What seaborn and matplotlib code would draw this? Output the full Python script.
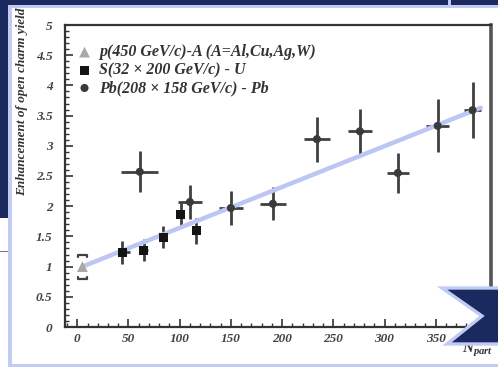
import matplotlib
matplotlib.use("Agg")
import matplotlib.pyplot as plt
from matplotlib.patches import Rectangle, Polygon
from matplotlib.ticker import MultipleLocator, FuncFormatter
import seaborn as sns
import pandas as pd

# ---- data -------------------------------------------------------------
pa_npart = [5]
pa_yield = [1.0]
pa_sys_lo = [0.79]
pa_sys_hi = [1.19]

su_npart = [44, 65, 84, 101, 116]
su_yield = [1.24, 1.27, 1.49, 1.87, 1.59]
su_yerr = [0.19, 0.18, 0.19, 0.19, 0.21]
su_xerr = [7, 4, 4, 3, 3]

pb_npart = [61, 110, 150, 191, 234, 276, 313, 352, 386]
pb_yield = [2.57, 2.07, 1.97, 2.04, 3.11, 3.24, 2.55, 3.33, 3.59]
pb_yerr = [0.34, 0.28, 0.28, 0.27, 0.37, 0.37, 0.33, 0.44, 0.46]
pb_xerr = [18, 12, 12, 13, 13, 12, 11, 11, 8]

fit_npart = [5, 394]
fit_yield = [1.0, 3.63]

legend_labels = [
    "p(450 GeV/c)-A (A=Al,Cu,Ag,W)",
    "S(32 \u00d7 200 GeV/c) - U",
    "Pb(208 \u00d7 158 GeV/c) - Pb",
]

# ---- style ------------------------------------------------------------
sns.set_style("white")
plt.rcParams["font.family"] = ["Liberation Serif", "DejaVu Serif"]
plt.rcParams["font.weight"] = "bold"
plt.rcParams["font.style"] = "italic"
plt.rcParams["mathtext.fontset"] = "custom"
plt.rcParams["mathtext.it"] = "Liberation Serif:italic:bold"
plt.rcParams["mathtext.rm"] = "Liberation Serif:italic:bold"

NAVY = "#1b2a5e"
PALE = "#c2cbf4"
LINE = "#bcc6f2"
INK = "#404040"

W, H = 498, 368
fig = plt.figure(figsize=(W / 100, H / 100), dpi=100, facecolor="white")


def px(x, y):
    return (x / W, 1 - y / H)


def frect(x0, y0, x1, y1, color, z=1):
    fig.patches.append(Rectangle(px(x0, y1), (x1 - x0) / W, (y1 - y0) / H,
                                 transform=fig.transFigure, facecolor=color,
                                 edgecolor="none", zorder=z))


# slide frame
frect(0, 0, W, 4.5, NAVY)
frect(0, 0, 8, 218, NAVY)
frect(448, 0, 450.5, 4.5, PALE)
frect(8, 4.5, W, 7.5, PALE)
frect(8, 4.5, 11.5, 367, PALE)
frect(8, 363.5, W, 367, PALE)
frect(0, 250.5, 8, 251.5, "#777777")

# ---- axes -------------------------------------------------------------
ax = fig.add_axes([65 / W, 1 - 327 / H, (491 - 65) / W, (327 - 25) / H])
ax.set_facecolor("white")

ax.errorbar(su_npart, su_yield, yerr=su_yerr, xerr=su_xerr, fmt="none",
            ecolor=INK, elinewidth=2.0, capsize=0, zorder=3)
ax.errorbar(pb_npart, pb_yield, yerr=pb_yerr, xerr=pb_xerr, fmt="none",
            ecolor=INK, elinewidth=2.0, capsize=0, zorder=3)

# bracket-style systematic band for p-A
for xc, lo, hi in zip(pa_npart, pa_sys_lo, pa_sys_hi):
    ax.plot([xc - 4.5, xc - 4.5, xc + 4.5, xc + 4.5],
            [hi - 0.03, hi, hi, hi - 0.03], color=INK, lw=1.6, zorder=3)
    ax.plot([xc - 4.5, xc - 4.5, xc + 4.5, xc + 4.5],
            [lo + 0.03, lo, lo, lo + 0.03], color=INK, lw=1.6, zorder=3)

sns.lineplot(x=fit_npart, y=fit_yield, color=LINE, lw=3.2, ax=ax, zorder=4,
             legend=False)

df_pa = pd.DataFrame({"npart": pa_npart, "yield": pa_yield})
df_su = pd.DataFrame({"npart": su_npart, "yield": su_yield})
df_pb = pd.DataFrame({"npart": pb_npart, "yield": pb_yield})
sns.scatterplot(data=df_pa, x="npart", y="yield", marker="^", s=60,
                color="#a8a8a8", edgecolor="none", ax=ax, zorder=5,
                label=legend_labels[0])
sns.scatterplot(data=df_su, x="npart", y="yield", marker="s", s=42,
                color="#141414", edgecolor="none", ax=ax, zorder=5,
                label=legend_labels[1])
sns.scatterplot(data=df_pb, x="npart", y="yield", marker="o", s=34,
                color="#3a3a3a", edgecolor="none", ax=ax, zorder=5,
                label=legend_labels[2])

ax.set_xlim(-12, 404)
ax.set_ylim(0, 5)
ax.set_xlabel("")
ax.set_ylabel("")

ax.xaxis.set_major_locator(MultipleLocator(50))
ax.xaxis.set_minor_locator(MultipleLocator(10))
ax.yaxis.set_major_locator(MultipleLocator(0.5))
ax.yaxis.set_minor_locator(MultipleLocator(0.1))
ax.yaxis.set_major_formatter(FuncFormatter(lambda v, p: f"{v:g}"))
ax.tick_params(which="both", direction="in", bottom=True, left=True,
               top=False, right=False, colors="#333333", labelcolor="#444444",
               labelsize=9.5)
ax.tick_params(which="major", length=6, width=1.2)
ax.tick_params(which="minor", length=3, width=1.0)
ax.tick_params(axis="y", pad=9)
ax.tick_params(axis="x", pad=4)

for side in ["left", "bottom", "top"]:
    ax.spines[side].set_color("#333333")
    ax.spines[side].set_linewidth(1.6)
ax.spines["right"].set_color("#555555")
ax.spines["right"].set_linewidth(2.6)

leg = ax.legend(loc="upper left", bbox_to_anchor=(0.028, 0.936),
                frameon=False, fontsize=11.5, handlelength=0.95,
                handletextpad=0.45, labelspacing=0.12, borderpad=0,
                borderaxespad=0)
for t in leg.get_texts():
    t.set_color("#333333")

# axis titles
fig.text(22 / W, 1 - 8 / H, "Enhancement of open charm yield", rotation=90,
         ha="center", va="top", fontsize=9.5, color="#333333")
fig.text(462 / W, 1 - 353 / H, r"$N_{part}$", ha="left", va="baseline",
         fontsize=11, color="#333333")

# chevron arrow
arrow = Polygon([px(442, 288), px(W + 5, 288), px(W + 5, 344), px(447, 344),
                 px(482, 316)], closed=True, transform=fig.transFigure,
                facecolor=NAVY, edgecolor=PALE, linewidth=2.4, zorder=6)
fig.patches.append(arrow)

fig.savefig("out.png", dpi=100, facecolor="white")
